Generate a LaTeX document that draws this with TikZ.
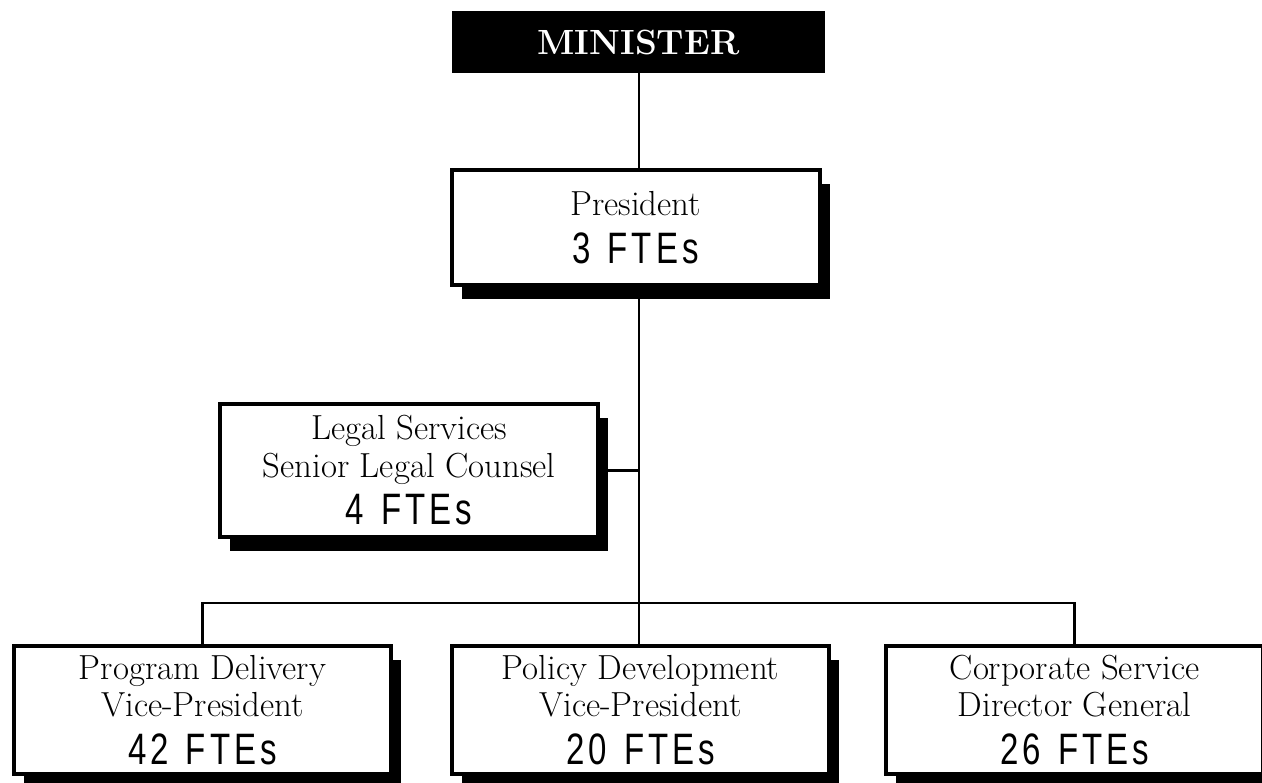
\documentclass[tikz,border=0pt]{standalone}
\usepackage{fontspec}
\usetikzlibrary{shadows}
\newfontfamily\ftefont[FakeStretch=0.75,LetterSpace=9,WordSpace=1.3]{Liberation Sans}
\newcommand{\sertext}{\fontsize{17.4}{18.75}\selectfont}
\newcommand{\ftetext}{\ftefont\fontsize{22}{23.5}\selectfont}
\tikzset{
  orgbox/.style={draw, line width=2pt, fill=white, align=center, inner sep=0pt,
    drop shadow={shadow xshift=5pt, shadow yshift=-7pt, opacity=1, fill=black},
    font=\sertext},
  minbox/.style={fill=black, text=white, inner sep=0pt, font=\bfseries\fontsize{17.5}{20}\selectfont},
  link/.style={line width=1.4pt}
}
\begin{document}
\begin{tikzpicture}[x=0.5pt,y=-0.5pt]
\useasboundingbox (0,0) rectangle (1262,782);
\fill[white] (0,0) rectangle (1262,782);
\clip (0,0) rectangle (1262,782);
\node[minbox, minimum width=186.5pt, minimum height=31pt] (minister) at (638.5,42) {MINISTER};
\node[orgbox, minimum width=184pt, minimum height=57.5pt] (president) at (635.5,227.5)
  {President\\[5pt]{\ftetext 3 FTEs}};
\node[orgbox, minimum width=189pt, minimum height=66.5pt] (legal) at (409,470.5)
  {Legal Services\\Senior Legal Counsel\\[5pt]{\ftetext 4 FTEs}};
\node[orgbox, minimum width=188.5pt, minimum height=64pt] (pd) at (202.5,710)
  {Program Delivery\\Vice-President\\[5pt]{\ftetext 42 FTEs}};
\node[orgbox, minimum width=188.5pt, minimum height=64pt] (pol) at (640.5,710)
  {Policy Development\\Vice-President\\[5pt]{\ftetext 20 FTEs}};
\node[orgbox, minimum width=188.5pt, minimum height=64pt] (cs) at (1074.5,710)
  {Corporate Service\\Director General\\[5pt]{\ftetext 26 FTEs}};
\coordinate (trunk) at (639,603);
\draw[link] (minister.south -| trunk) -- (president.north -| trunk);
\draw[link] (president.south -| trunk) -- (trunk);
\draw[link] (legal.east) -- (legal.east -| trunk);
\draw[link] (pd.north) |- (trunk) -| (cs.north);
\draw[link] (trunk) -- (pol.north -| trunk);
\end{tikzpicture}
\end{document}
